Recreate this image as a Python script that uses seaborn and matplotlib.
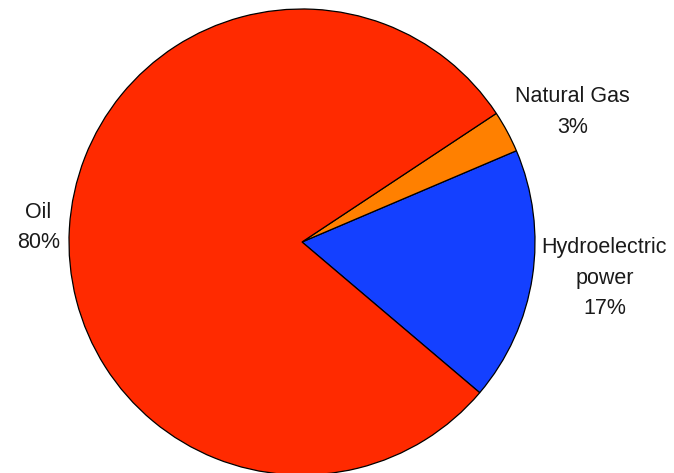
import matplotlib.pyplot as plt
import seaborn as sns

# energy sources, drawn counter-clockwise starting from the lower right
sources = ["Hydroelectric\npower", "Natural Gas", "Oil"]
shares = [17.6, 2.9, 79.5]
pct_labels = ["17%", "3%", "80%"]
colors = ["#1440FF", "#FF8000", "#FF2A00"]


def make_pie(out_path="out.png"):
    sns.set_theme(style="white")
    plt.rcParams["font.family"] = ["Liberation Sans", "DejaVu Sans"]

    fig = plt.figure(figsize=(6.74, 4.73), dpi=100)
    ax = fig.add_axes([0, 0, 1, 1])

    labels = [f"{s}\n{p}" for s, p in zip(sources, pct_labels)]
    wedges, texts = ax.pie(
        shares,
        labels=labels,
        colors=colors,
        startangle=-40.3,
        counterclock=True,
        center=(302, 231),
        radius=233,
        labeldistance=1.04,
        frame=True,
        wedgeprops=dict(edgecolor="black", linewidth=0.9),
        textprops=dict(fontsize=15.5, color="#1a1a1a", multialignment="center", linespacing=1.6),
    )

    # with an offset centre pie aligns every label to the left, fix the left one
    cx = 302
    for t in texts:
        if t.get_position()[0] < cx:
            t.set_horizontalalignment("right")

    # the small slice label sits a bit higher in the original
    gas = texts[1]
    x, y = gas.get_position()
    gas.set_position((x, y + 15))

    ax.set_xlim(0, 674)
    ax.set_ylim(0, 473)
    ax.set_aspect("equal")
    ax.axis("off")

    fig.savefig(out_path, dpi=100)


if __name__ == "__main__":
    make_pie()
